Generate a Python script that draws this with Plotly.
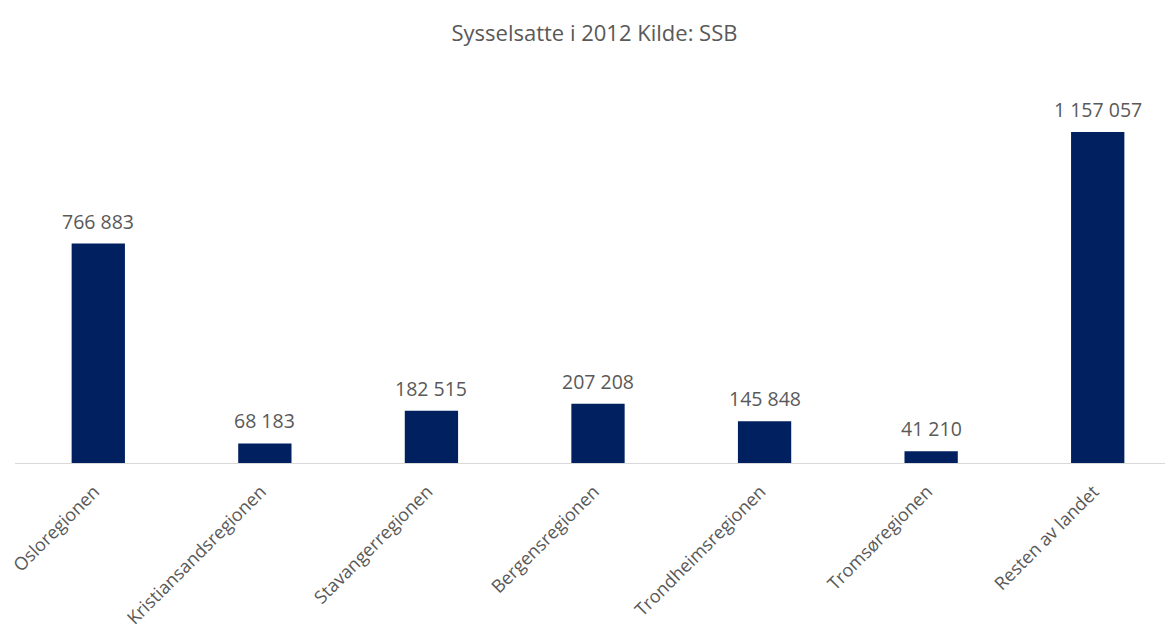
import plotly.graph_objects as go

categories = ["Osloregionen", "Kristiansandsregionen", "Stavangerregionen", "Bergensregionen",
              "Trondheimsregionen", "Tromsøregionen", "Resten av landet"]
values = [766883, 68183, 182515, 207208, 145848, 41210, 1157057]

fig = go.Figure(go.Bar(
    x=categories, y=values,
    marker=dict(color="#002060", line=dict(width=0)),
    width=0.32,
    cliponaxis=False,
))

for c, v in zip(categories, values):
    fig.add_annotation(
        x=c, y=v, xref="x", yref="y",
        text=f"{v:,}".replace(",", " "),
        showarrow=False, yanchor="bottom", xanchor="center", yshift=7,
        font=dict(size=19.5, color="#595959", family="Open Sans"),
    )

fig.update_layout(
    width=1173, height=627,
    margin=dict(l=7, r=0, t=72, b=172),
    paper_bgcolor="white", plot_bgcolor="white",
    showlegend=False,
    title=dict(text="Sysselsatte i 2012 Kilde: SSB", x=0.5, xanchor="center", y=0.96, yanchor="middle",
               font=dict(size=22, color="#595959", family="Open Sans")),
    font=dict(family="Open Sans", color="#595959"),
    xaxis=dict(range=[-0.5, 6.5], tickangle=-45, tickfont=dict(size=18, color="#595959"),
               showline=True, linecolor="#d9d9d9", linewidth=1, ticks="", showgrid=False,
               automargin=False, ticklabelstandoff=10, ticklabelshift=-4),
    yaxis=dict(range=[0, 1338800], visible=False, showgrid=False, zeroline=False),
)

fig.write_html("out.html")
